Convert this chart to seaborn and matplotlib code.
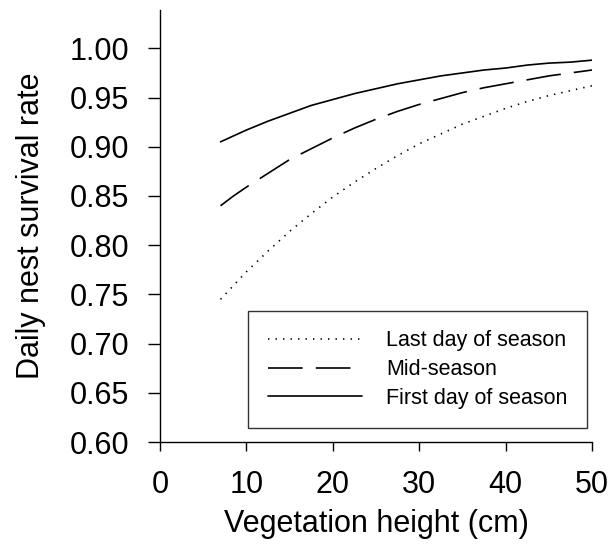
import numpy as np
import pandas as pd
import matplotlib
matplotlib.use("Agg")
import matplotlib.pyplot as plt
import seaborn as sns

# Data
veg_height = [7, 8.5, 10, 12.5, 15, 17.5, 20, 22.5, 25, 27.5, 30, 32.5, 35, 37.5, 40, 42.5, 45, 47.5, 50]
last_day = [0.745, 0.759, 0.773, 0.794, 0.814, 0.832, 0.849, 0.864, 0.878, 0.891, 0.903,
            0.913, 0.923, 0.931, 0.939, 0.946, 0.952, 0.957, 0.962]
mid_season = [0.840, 0.850, 0.859, 0.873, 0.887, 0.898, 0.909, 0.919, 0.928, 0.936, 0.943,
              0.949, 0.955, 0.960, 0.964, 0.968, 0.972, 0.975, 0.978]
first_day = [0.905, 0.911, 0.917, 0.926, 0.934, 0.942, 0.948, 0.954, 0.959, 0.964, 0.968,
             0.972, 0.975, 0.978, 0.980, 0.983, 0.985, 0.986, 0.988]
series_names = ["Last day of season", "Mid-season", "First day of season"]
x_ticks = [0, 10, 20, 30, 40, 50]
y_ticks = [0.60, 0.65, 0.70, 0.75, 0.80, 0.85, 0.90, 0.95, 1.00]

sns.set_style("ticks")
plt.rcParams["font.family"] = ["Liberation Sans", "DejaVu Sans"]
plt.rcParams["lines.scale_dashes"] = False
for k in ["text.color", "axes.labelcolor", "xtick.color", "ytick.color", "axes.edgecolor"]:
    plt.rcParams[k] = "black"

fig = plt.figure(figsize=(6.15, 5.48), dpi=100)
ax = fig.add_axes([0.2602, 0.1934, 0.7024, 0.7884])

styles = [(0, (1.0, 4.4)), (0, (25, 9.4)), "-"]
for name, vals, ls in zip(series_names, [last_day, mid_season, first_day], styles):
    df = pd.DataFrame({"x": veg_height, "y": vals})
    sns.lineplot(data=df, x="x", y="y", ax=ax, color="black", linewidth=1.2,
                 linestyle=ls, label=name)

ax.set_xlim(0, 50)
ax.set_ylim(0.60, 1.039)
ax.set_xticks(x_ticks)
ax.set_xticklabels([str(t) for t in x_ticks])
ax.set_yticks(y_ticks)
ax.set_yticklabels([f"{t:.2f}" for t in y_ticks])
ax.tick_params(axis="y", direction="out", length=9, width=1.0, pad=13, labelsize=22, colors="black")
ax.tick_params(axis="x", direction="out", length=6.5, width=1.0, pad=14, labelsize=22, colors="black")
for s in ["top", "right"]:
    ax.spines[s].set_visible(False)
for s in ["left", "bottom"]:
    ax.spines[s].set_linewidth(1.0)
    ax.spines[s].set_color("black")
ax.set_xlabel("Vegetation height (cm)", fontsize=22, labelpad=6, color="black")
ax.set_ylabel("Daily nest survival rate", fontsize=22, labelpad=17, color="black")

leg = ax.legend(loc="lower right", bbox_to_anchor=(0.988, 0.032), borderaxespad=0,
                fontsize=15.5, handlelength=4.4, handletextpad=1.1, labelspacing=0.36,
                borderpad=0.9, frameon=True, fancybox=False, edgecolor="black")
leg.get_frame().set_linewidth(1.0)
for t in leg.get_texts():
    t.set_color("black")

fig.savefig("out.png", dpi=100)
